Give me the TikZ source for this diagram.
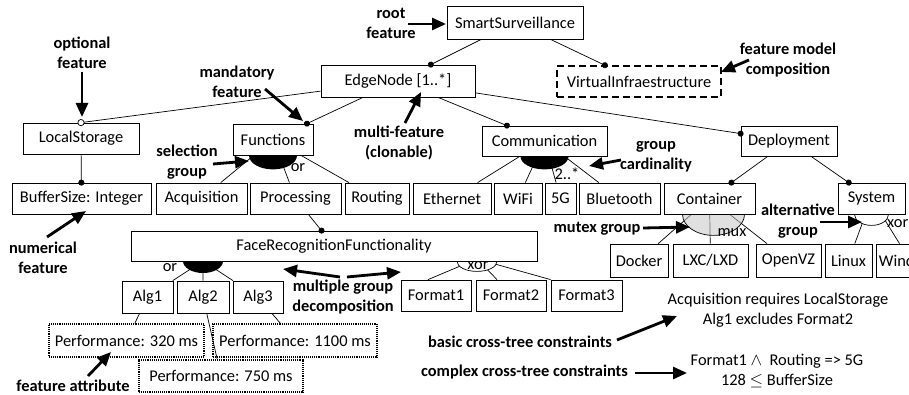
\documentclass[tikz,border=0pt]{standalone}
\usepackage{fontspec}
\setmainfont{Carlito}
\usetikzlibrary{arrows.meta,calc}
\pgfdeclarelayer{bg}
\pgfsetlayers{bg,main}
\newcommand\fmfont{\fontsize{16.4}{20}\selectfont}
% \featbox[extra style]{name}{x}{y}{width}{height}{text}
\newcommand\featbox[7][]{\node[feat,#1,minimum width=#5pt,minimum height=#6pt] (#2) at (#3,#4) {#7};}

\begin{document}
\begin{tikzpicture}[x=1pt,y=-1pt,
  feat/.style={draw,line width=0.8pt,fill=white,inner sep=0pt,font=\fmfont},
  virtual/.style={line width=1.5pt,dash pattern=on 7pt off 4pt},
  attrib/.style={line width=1.3pt,dash pattern=on 1pt off 0.9pt},
  edgeline/.style={line width=0.7pt},
  mandedge/.style={edgeline,-{Circle[length=6pt]},shorten >=-3pt},
  optedge/.style={edgeline,-{Circle[open,length=7pt,fill=white,line width=0.7pt]},shorten >=-3.5pt},
  orgroup/.style={fill=black},
  xorgroup/.style={fill=white,draw,line width=0.7pt},
  muxgroup/.style={fill=gray!45,fill opacity=0.55,draw,draw opacity=1,line width=0.7pt},
  note/.style={font=\bfseries\fmfont,align=center,inner sep=0pt},
  grouplbl/.style={font=\fmfont,inner sep=0pt},
  plaintext/.style={font=\fmfont,align=center,inner sep=0pt},
  ann/.style={line width=2.8pt,-{Triangle[length=14pt,width=12pt]}}]

\useasboundingbox (0,0) rectangle (909,395);
\clip (0,0) rectangle (909,395);

% ---------- features ----------
\featbox{ss}{515}{22.5}{136}{33}{SmartSurveillance}
\featbox{edge}{398}{81}{154}{32}{EdgeNode [1..*]}
\featbox[virtual]{virt}{639}{81.5}{164}{31}{VirtualInfraestructure}
\featbox{local}{81}{138.5}{116}{31}{LocalStorage}
\featbox{func}{273}{139.5}{80}{31}{Functions}
\featbox{comm}{544.5}{141}{125}{30}{Communication}
\featbox{depl}{789}{141}{96}{30}{Deployment}

\featbox{buf}{81.5}{198.5}{139}{31}{BufferSize: Integer}
\featbox{acq}{201.5}{198.5}{91}{31}{Acquisition}
\featbox{proc}{295.5}{198.5}{91}{31}{Processing}
\featbox{rout}{377}{198.5}{64}{31}{Routing}
\featbox{eth}{452}{198.5}{78}{31}{Ethernet}
\featbox{wifi}{518}{198.5}{48}{31}{WiFi}
\featbox{fiveg}{560.5}{198.5}{31}{31}{5G}
\featbox{blue}{619.5}{198.5}{81}{31}{Bluetooth}
\featbox{cont}{709.5}{198.5}{91}{31}{Container}
\featbox{sys}{871.5}{198.5}{67}{31}{System}

\featbox{face}{334}{246}{406}{30}{FaceRecognitionFunctionality}
\featbox{dock}{639}{260.5}{58}{33}{Docker}
\featbox{lxc}{710.5}{260.5}{75}{33}{LXC/LXD}
\featbox{ovz}{788.5}{260.5}{65}{33}{OpenVZ}
\featbox{linux}{848.5}{260.5}{47}{33}{Linux}
\featbox{win}{910}{260.5}{68}{33}{Windows}

\featbox{algone}{147.5}{297}{51}{32}{Alg1}
\featbox{algtwo}{203}{297}{52}{32}{Alg2}
\featbox{algthree}{258}{297}{50}{32}{Alg3}
\featbox{fone}{436}{295.5}{70}{31}{Format1}
\featbox{ftwo}{511}{295.5}{70}{31}{Format2}
\featbox{fthree}{586.5}{295.5}{71}{31}{Format3}

\featbox[attrib]{pa}{126.5}{340.5}{155}{33}{Performance: 320 ms}
\featbox[attrib]{pc}{295}{340.5}{164}{33}{Performance: 1100 ms}
\featbox[attrib]{pb}{221}{376}{164}{32}{Performance: 750 ms}

% ---------- group decompositions (behind the boxes) ----------
\coordinate (orpt) at (203,261);
\coordinate (xorpt) at (477,259);
\begin{pgfonlayer}{bg}
  \draw[edgeline] (func) -- (acq) (func) -- (proc) (func) -- (rout);
  \draw[edgeline] (comm) -- (eth) (comm) -- (wifi) (comm) -- (fiveg) (comm) -- (blue);
  \draw[edgeline] (cont) -- (dock) (cont) -- (lxc) (cont) -- (ovz);
  \draw[edgeline] (sys) -- (linux) (sys) -- (win);
  \draw[edgeline] (orpt) -- (algone) (orpt) -- (algtwo) (orpt) -- (algthree);
  \draw[edgeline] (xorpt) -- ($(fone.north)+(-8,0)$)
                  (xorpt) -- ($(ftwo.north)+(-14,0)$)
                  (xorpt) -- (fthree.north west);
  \path[orgroup] (func.south) ++(-24pt,0) arc[start angle=180,end angle=360,x radius=24pt,y radius=14pt] -- cycle;
  \path[orgroup] (comm.south) ++(-24pt,0) arc[start angle=180,end angle=360,x radius=24pt,y radius=13pt] -- cycle;
  \path[orgroup] (orpt) ++(-20pt,0) arc[start angle=180,end angle=360,x radius=20pt,y radius=12pt] -- cycle;
  \path[xorgroup] (face.south -| xorpt) ++(-20pt,0) arc[start angle=180,end angle=360,x radius=20pt,y radius=10pt] -- cycle;
  \path[muxgroup] ($(cont.south)+(4,0)$) ++(-31pt,0) arc[start angle=180,end angle=360,x radius=31pt,y radius=21pt] -- cycle;
  \path[xorgroup] (sys.south) ++(-17pt,0) arc[start angle=180,end angle=360,x radius=17pt,y radius=11pt] -- cycle;
\end{pgfonlayer}

% ---------- parent/child relations ----------
\draw[mandedge] (ss) -- (edge);
\draw[mandedge] (ss) -- (virt);
\draw[optedge] (edge) -- (local.north);
\draw[mandedge] (edge) -- (func);
\draw[mandedge] (edge) -- (comm);
\draw[mandedge] (edge) -- (depl);
\draw[mandedge] (local) -- (buf);
\draw[mandedge] (proc) -- (face);
\draw[mandedge] (depl) -- (cont);
\draw[mandedge] (depl) -- (sys);
\draw[edgeline] (algone) -- (pa) (algtwo) -- (pb) (algthree) -- (pc);

% ---------- group labels ----------
\node[grouplbl] (orfunc) at (298,168) {or};
\node[grouplbl] (card) at (567,174) {2..*};
\node[grouplbl] (orface) at (170,268) {or};
\node[grouplbl] (xorface) at (478,266) {xor};
\node[grouplbl] (muxlbl) at (732,233) {mux};
\node[grouplbl,anchor=west] (xorsys) at (887,224) {xor};

% ---------- cross-tree constraints ----------
\node[plaintext] (basiccons) at (778,310) {Acquisition requires LocalStorage\\Alg1 excludes Format2};
\node[plaintext] (complexcons) at (777,371) {Format1 $\land$\ \ Routing => 5G\\128 $\leq$ BufferSize};

% ---------- explanatory notes ----------
\node[note] (nroot) at (391,23) {root\\feature};
\node[note] (nopt) at (82,53) {optional\\feature};
\node[note] (nmand) at (237,82) {mandatory\\feature};
\node[note] (nmulti) at (399,143) {multi-feature\\(clonable)};
\node[note] (nsel) at (187,162) {selection\\group};
\node[note] (ncomp) at (788,60) {feature model\\composition};
\node[note] (ncard) at (656,157) {group\\cardinality};
\node[note] (nnum) at (43,257.5) {numerical\\feature};
\node[note] (nmgd) at (343,297) {multiple group\\decomposition};
\node[note] (nattr) at (73,386) {feature attribute};
\node[note] (nmutex) at (597,229) {mutex group};
\node[note] (nalt) at (798,221) {alternative\\group};
\node[note] (nbasic) at (520,342) {basic cross-tree constraints};
\node[note] (ncomplex) at (524.5,372) {complex cross-tree constraints};

\coordinate (aroot) at (408,24);     \coordinate (troot) at (446,24);
\coordinate (aopt) at (82,72);       \coordinate (topt) at (82,117);
\coordinate (amand) at (265,89);     \coordinate (tmand) at (303,121);
\coordinate (amulti) at (405,123);   \coordinate (tmulti) at (421,92);
\coordinate (asel) at (213,164);     \coordinate (tsel) at (249,161);
\coordinate (acomp) at (749,60);     \coordinate (tcomp) at (721,72);
\coordinate (acard) at (621,160);    \coordinate (tcard) at (589,166);
\coordinate (anum) at (47,237);      \coordinate (tnum) at (86,211);
\coordinate (amgdl) at (340,277);    \coordinate (tmgdl) at (283,269);
\coordinate (amgdr) at (347,277);    \coordinate (tmgdr) at (401,272);
\coordinate (aattr) at (88,376);     \coordinate (tattr) at (111,352);
\coordinate (amutex) at (643,228);   \coordinate (tmutex) at (690,227);
\coordinate (aalt) at (820,222);     \coordinate (talt) at (862,222);
\coordinate (abasic) at (617,340);   \coordinate (tbasic) at (677,316);
\coordinate (acomplex) at (635,373); \coordinate (tcomplex) at (687,373);

\draw[ann] (aroot) -- (troot);
\draw[ann] (aopt) -- (topt);
\draw[ann] (amand) -- (tmand);
\draw[ann] (amulti) -- (tmulti);
\draw[ann] (asel) -- (tsel);
\draw[ann] (acomp) -- (tcomp);
\draw[ann] (acard) -- (tcard);
\draw[ann] (anum) -- (tnum);
\draw[ann] (amgdl) -- (tmgdl);
\draw[ann] (amgdr) -- (tmgdr);
\draw[ann] (aattr) -- (tattr);
\draw[ann] (amutex) -- (tmutex);
\draw[ann] (aalt) -- (talt);
\draw[ann] (abasic) -- (tbasic);
\draw[ann] (acomplex) -- (tcomplex);
\end{tikzpicture}
\end{document}
